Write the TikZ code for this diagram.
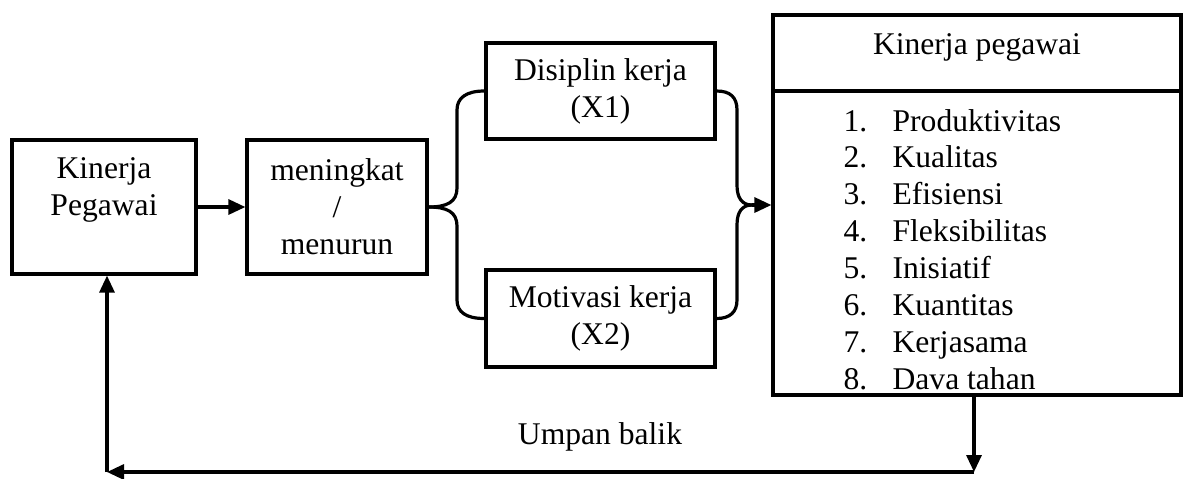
\documentclass[tikz,border=0pt]{standalone}
\usepackage{fontspec}
\setmainfont{Liberation Serif}
\usetikzlibrary{arrows.meta}
\begin{document}
\begin{tikzpicture}[x=0.5pt,y=-0.5pt, line width=1.6pt,
  font=\fontsize{15.8}{18.5}\selectfont,
  box/.style={draw, rectangle, inner sep=0pt, align=center},
  arr/.style={-{Triangle[length=8.5pt,width=7.5pt]}},
  lbl/.style={inner sep=0pt, align=center},
  item/.style={anchor=base west, inner sep=0pt}]
\path[use as bounding box] (0,0) rectangle (1184,478);
% boxes
\node[box, minimum width=92pt, minimum height=67pt] (A) at (104,207) {};
\node[lbl] (Atext) at (104,190) {Kinerja\\Pegawai};
\node[box, minimum width=90pt, minimum height=67pt] (B) at (337,207) {meningkat\\/\\menurun};
\node[box, minimum width=114.5pt, minimum height=48pt] (C) at (600.5,91) {Disiplin kerja\\(X1)};
\node[box, minimum width=114.5pt, minimum height=48.5pt] (D) at (600.5,318.5) {Motivasi kerja\\(X2)};
\node[box, minimum width=204pt, minimum height=190pt] (E) at (977,205) {};
\coordinate (dv) at (0,91);
\draw (E.west |- dv) -- (E.east |- dv);
\node[lbl] (Eh) at (977,47) {Kinerja pegawai};
\foreach \t [count=\i] in {Produktivitas, Kualitas, Efisiensi, Fleksibilitas, Inisiatif, Kuantitas, Kerjasama, Dava tahan} {
  \node[item] (n\i) at (842,{131+36.9*(\i-1)}) {\i.};
  \node[item] (t\i) at (891,{131+36.9*(\i-1)}) {\t};
}
% A -> B
\draw[arr] (A.east) -- (B.west);
% left brace
\draw (B.east) .. controls (447,207) and (457,202) .. (457,188) -- (457,110) .. controls (457,98) and (466,91) .. (C.west);
\draw (B.east) .. controls (447,207) and (457,212) .. (457,226) -- (457,300) .. controls (457,312) and (466,318.5) .. (D.west);
% right brace
\coordinate (J) at (752,205);
\draw (C.east) .. controls (730,91) and (737,97) .. (737,110) -- (737,185) .. controls (737,198) and (742,205) .. (J);
\draw (D.east) .. controls (730,318.5) and (737,312) .. (737,300) -- (737,225) .. controls (737,212) and (742,205) .. (J);
\draw[arr] (J) -- (E.west);
% feedback
\coordinate (F1) at (974,472);
\coordinate (F2) at (107,472);
\draw[arr] (E.south -| F1) -- (F1);
\draw[arr] (F1) -- (F2);
\draw[arr] (F2) -- (A.south -| F2);
\node[lbl] (U) at (600,437) {Umpan balik};
\end{tikzpicture}
\end{document}
